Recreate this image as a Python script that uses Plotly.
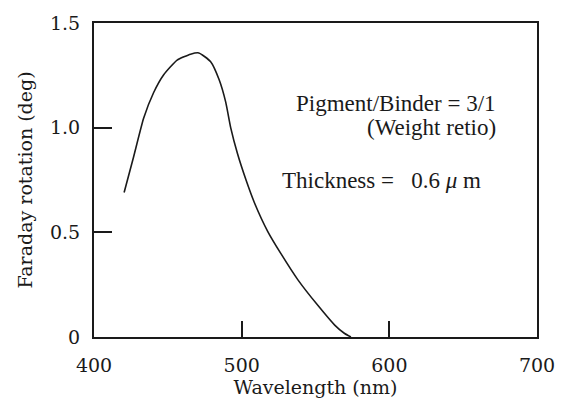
import plotly.graph_objects as go

wavelength_nm = [420.4, 426.8, 433.6, 440.4, 447.2, 456.3, 465.4, 471.0, 479.0, 484.7,
                 489.2, 492.6, 497.2, 502.9, 508.5, 517.6, 526.7, 538.1, 551.7, 563.0,
                 569.5, 574.0]
faraday_deg = [0.690, 0.860, 1.045, 1.168, 1.253, 1.323, 1.351, 1.357, 1.315, 1.230,
               1.122, 0.999, 0.875, 0.751, 0.644, 0.505, 0.397, 0.273, 0.150, 0.057,
               0.018, 0.0]

x_ticks = [400, 500, 600, 700]
x_ticklabels = ["400", "500", "600", "700"]
y_ticks = [0, 0.5, 1.0, 1.5]
y_ticklabels = ["0", "0.5", "1.0", "1.5"]

AXFONT = "DejaVu Serif"
TXTFONT = "Liberation Serif"
INK = "#1a1a1a"

fig = go.Figure()
fig.add_trace(go.Scatter(x=wavelength_nm, y=faraday_deg, mode="lines",
                         line=dict(color=INK, width=1.6, shape="spline", smoothing=0.5),
                         hoverinfo="skip", showlegend=False))

fig.update_layout(
    width=567, height=403,
    margin=dict(l=94, r=28, t=15, b=64),
    paper_bgcolor="white", plot_bgcolor="white",
    font=dict(family=AXFONT, size=19, color=INK),
    showlegend=False,
)
fig.update_xaxes(range=[400, 700], tickvals=x_ticks, ticktext=x_ticklabels,
                 ticks="inside", ticklen=16, tickwidth=1.5, tickcolor=INK,
                 showline=True, linecolor=INK, linewidth=2, mirror=True,
                 showgrid=False, zeroline=False, ticklabelstandoff=10,
                 tickfont=dict(family=AXFONT, size=19),
                 title=dict(text="Wavelength (nm)", font=dict(family=AXFONT, size=19), standoff=2))
fig.update_yaxes(range=[0, 1.5], tickvals=y_ticks, ticktext=y_ticklabels,
                 ticks="inside", ticklen=18, tickwidth=1.5, tickcolor=INK,
                 showline=True, linecolor=INK, linewidth=2, mirror=True,
                 showgrid=False, zeroline=False, ticklabelstandoff=8,
                 tickfont=dict(family=AXFONT, size=19),
                 title=dict(text="Faraday rotation (deg)", font=dict(family=AXFONT, size=19), standoff=12))

fig.add_annotation(text="Pigment/Binder = 3/1", xref="paper", yref="paper",
                   x=0.912, y=0.744, xanchor="right", yanchor="middle", showarrow=False,
                   font=dict(family=TXTFONT, size=23))
fig.add_annotation(text="(Weight retio)", xref="paper", yref="paper",
                   x=0.912, y=0.667, xanchor="right", yanchor="middle", showarrow=False,
                   font=dict(family=TXTFONT, size=23))
fig.add_annotation(text="Thickness =\u00a0\u00a0 0.6 <i>μ</i>\u00a0m", xref="paper", yref="paper",
                   x=0.420, y=0.497, xanchor="left", yanchor="middle", showarrow=False,
                   font=dict(family=TXTFONT, size=23))

fig.write_html("out.html")
